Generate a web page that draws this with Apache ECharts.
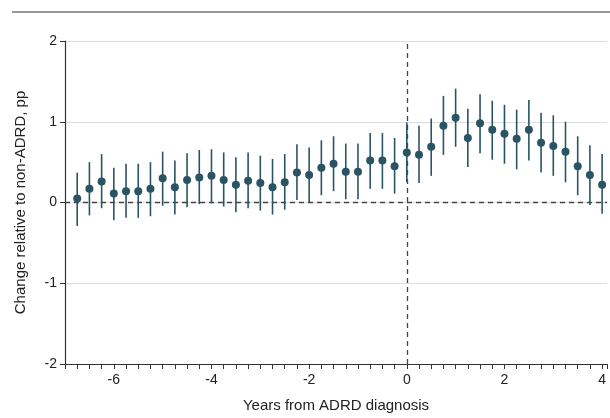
<!DOCTYPE html>
<html>
<head>
<meta charset="utf-8">
<script src="https://cdn.jsdelivr.net/npm/echarts@6/dist/echarts.min.js"></script>
<style>
  html, body { margin: 0; padding: 0; background: #fff; overflow: hidden; }
  #main { width: 610px; height: 418px; }
</style>
</head>
<body>
<div id="main"></div>
<script>
  // years relative to ADRD diagnosis (quarterly)
  var years = [-6.75, -6.5, -6.25, -6, -5.75, -5.5, -5.25, -5, -4.75, -4.5, -4.25, -4,
    -3.75, -3.5, -3.25, -3, -2.75, -2.5, -2.25, -2, -1.75, -1.5, -1.25, -1,
    -0.75, -0.5, -0.25, 0, 0.25, 0.5, 0.75, 1, 1.25, 1.5, 1.75, 2,
    2.25, 2.5, 2.75, 3, 3.25, 3.5, 3.75, 4];
  // point estimates, pp
  var estimate = [0.05, 0.17, 0.26, 0.11, 0.14, 0.14, 0.17, 0.30, 0.19, 0.28, 0.31, 0.33,
    0.28, 0.22, 0.27, 0.24, 0.19, 0.25, 0.37, 0.34, 0.43, 0.48, 0.38, 0.38,
    0.52, 0.52, 0.45, 0.62, 0.59, 0.69, 0.95, 1.05, 0.80, 0.98, 0.90, 0.85,
    0.79, 0.90, 0.74, 0.70, 0.63, 0.45, 0.34, 0.22];
  // 95% CI bounds
  var lower = [-0.29, -0.16, -0.07, -0.22, -0.19, -0.19, -0.17, -0.04, -0.15, -0.06, -0.02, -0.01,
    -0.05, -0.12, -0.07, -0.10, -0.15, -0.09, 0.03, 0.00, 0.09, 0.14, 0.04, 0.04,
    0.17, 0.17, 0.11, 0.25, 0.24, 0.33, 0.59, 0.69, 0.44, 0.61, 0.53, 0.48,
    0.41, 0.52, 0.37, 0.33, 0.25, 0.09, -0.03, -0.14];
  var upper = [0.37, 0.50, 0.60, 0.43, 0.48, 0.48, 0.50, 0.63, 0.52, 0.61, 0.65, 0.66,
    0.62, 0.56, 0.62, 0.58, 0.54, 0.60, 0.72, 0.68, 0.77, 0.82, 0.73, 0.73,
    0.86, 0.86, 0.80, 0.99, 0.95, 1.04, 1.32, 1.41, 1.16, 1.34, 1.26, 1.21,
    1.15, 1.27, 1.11, 1.08, 1.00, 0.82, 0.71, 0.60];
  var xTickLabels = [-6, -4, -2, 0, 2, 4];
  var yTickLabels = [-2, -1, 0, 1, 2];

  var pointColor = '#2a5463';
  var fontFam = 'Liberation Sans, Arial, sans-serif';

  var pts = [], bars = [];
  years.forEach(function (y, i) {
    pts.push([y, estimate[i]]);
    bars.push([y, lower[i], upper[i]]);
  });

  var myChart = echarts.init(document.getElementById('main'));
  var option = {
    animation: false,
    textStyle: { fontFamily: fontFam },
    grid: { left: 65, right: 0, top: 41, bottom: 52, containLabel: false },
    graphic: [
      // rule under the (cropped) panel heading
      {
        type: 'line',
        shape: { x1: 12, y1: 12, x2: 610, y2: 12 },
        style: { stroke: '#333', lineWidth: 1.2 }
      }
    ],
    xAxis: {
      type: 'value',
      min: -7,
      max: 4.1,
      interval: 0.25,
      name: 'Years from ADRD diagnosis',
      nameLocation: 'middle',
      nameGap: 34,
      nameTextStyle: { fontSize: 15, color: '#222', fontFamily: fontFam },
      axisLine: { onZero: false, lineStyle: { color: '#333', width: 1.2 } },
      axisTick: { show: true, length: 5, lineStyle: { color: '#333' } },
      splitLine: { show: false },
      axisLabel: {
        interval: 0,
        margin: 9,
        fontSize: 14,
        color: '#222',
        showMinLabel: true,
        showMaxLabel: true,
        formatter: function (v) {
          var r = Math.round(v * 100) / 100;
          return xTickLabels.indexOf(r) >= 0 ? String(r) : '';
        }
      }
    },
    yAxis: {
      type: 'value',
      min: -2,
      max: 2,
      interval: 1,
      name: 'Change relative to non-ADRD, pp',
      nameLocation: 'middle',
      nameGap: 37,
      nameTextStyle: { fontSize: 15, color: '#222', fontFamily: fontFam },
      axisLine: { show: true, onZero: false, lineStyle: { color: '#333', width: 1.2 } },
      axisTick: { show: true, length: 5, lineStyle: { color: '#333' } },
      splitLine: { show: true, lineStyle: { color: '#dcdcdc', width: 1 } },
      axisLabel: {
        margin: 8,
        fontSize: 14,
        color: '#222',
        formatter: function (v) {
          return yTickLabels.indexOf(v) >= 0 ? String(v) : '';
        }
      }
    },
    series: [
      {
        // 95% CI whiskers
        type: 'custom',
        name: 'CI',
        silent: true,
        data: bars,
        encode: { x: 0, y: [1, 2] },
        renderItem: function (params, api) {
          var lo = api.coord([api.value(0), api.value(1)]);
          var hi = api.coord([api.value(0), api.value(2)]);
          return {
            type: 'line',
            shape: { x1: lo[0], y1: lo[1], x2: hi[0], y2: hi[1] },
            style: { stroke: pointColor, lineWidth: 1.6 }
          };
        },
        z: 3
      },
      {
        type: 'scatter',
        name: 'Estimate',
        data: pts,
        symbol: 'circle',
        symbolSize: 8,
        itemStyle: { color: pointColor, opacity: 1 },
        z: 4,
        markLine: {
          silent: true,
          symbol: 'none',
          label: { show: false },
          lineStyle: { color: '#444', type: [5, 4], width: 1.3 },
          data: [{ yAxis: 0 }, { xAxis: 0 }],
          z: 2
        }
      }
    ]
  };
  myChart.setOption(option);
</script>
</body>
</html>
